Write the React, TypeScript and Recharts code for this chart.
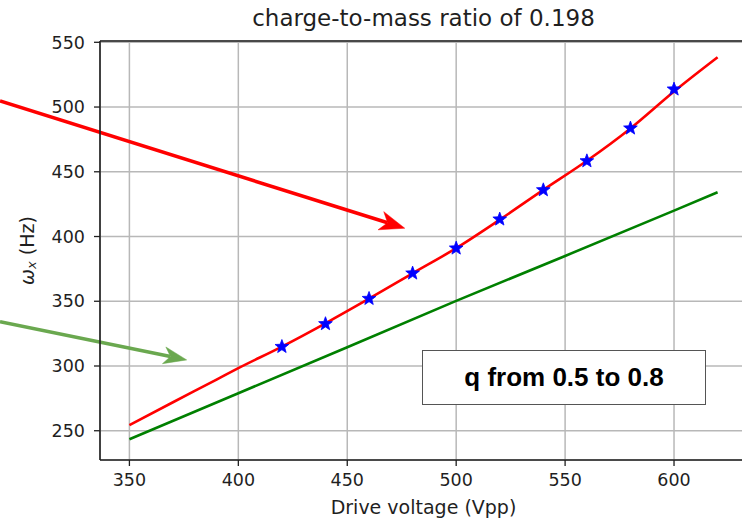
import React from 'react'
import {
  ComposedChart, Line, Scatter, XAxis, YAxis, CartesianGrid, ReferenceLine,
} from 'recharts'

// fitted secular frequency vs drive voltage
const fitVolts = [350, 370, 390, 400, 420, 440, 460, 480, 500, 520, 540, 560, 580, 600, 620]
const fitOmega = [254.4, 272, 289.5, 298.3, 315, 333, 352, 371.6, 391, 413, 436, 458.5, 483.5, 512, 538.4]

// linear approximation
const linVolts = [350, 400, 450, 500, 550, 600, 620]
const linOmega = [243.4, 279, 314.5, 350.3, 385, 420, 434.2]

// measured points
const measVolts = [420, 440, 460, 480, 500, 520, 540, 560, 580, 600]
const measOmega = [314.9, 332.5, 352, 371.6, 390.9, 413.3, 435.9, 458.3, 483.6, 513.7]

const xTicks = [350, 400, 450, 500, 550, 600]
const yTicks = [250, 300, 350, 400, 450, 500, 550]

const X_DOMAIN: [number, number] = [336.5, 633.5]
const Y_DOMAIN: [number, number] = [227.4, 551]

const fitData = fitVolts.map((v, i) => ({ v, w: fitOmega[i] }))
const linData = linVolts.map((v, i) => ({ v, w: linOmega[i] }))
const measData = measVolts.map((v, i) => ({ v, w: measOmega[i] }))

const MPL_FONT = '"DejaVu Sans", sans-serif'
const INK = '#1f1f1f'

function Star(props: any) {
  const { cx, cy } = props
  if (cx == null || cy == null) return null
  const outer = 7.2
  const inner = 3
  const pts: string[] = []
  for (let k = 0; k < 10; k++) {
    const r = k % 2 === 0 ? outer : inner
    const a = -Math.PI / 2 + (k * Math.PI) / 5
    pts.push(`${cx + r * Math.cos(a)},${cy + r * Math.sin(a)}`)
  }
  return <polygon points={pts.join(' ')} fill="#0000ff" stroke="#0000ff" strokeWidth={0.8} />
}

// straight arrow with a notched head, drawn between the segment ends
function arrow(color: string, width: number, headLen: number, headHalf: number) {
  return (props: any) => {
    const { x1, y1, x2, y2 } = props
    const dx = x2 - x1
    const dy = y2 - y1
    const len = Math.hypot(dx, dy)
    const ux = dx / len
    const uy = dy / len
    const nx = -uy
    const ny = ux
    const bx = x2 - ux * headLen
    const by = y2 - uy * headLen
    const mx = x2 - ux * headLen * 0.72
    const my = y2 - uy * headLen * 0.72
    const head = [
      `${x2},${y2}`,
      `${bx + nx * headHalf},${by + ny * headHalf}`,
      `${mx},${my}`,
      `${bx - nx * headHalf},${by - ny * headHalf}`,
    ].join(' ')
    return (
      <g>
        <line x1={x1} y1={y1} x2={mx} y2={my} stroke={color} strokeWidth={width} />
        <polygon points={head} fill={color} stroke={color} strokeWidth={0.5} />
      </g>
    )
  }
}

function OmegaLabel(props: any) {
  const { viewBox } = props
  const cx = viewBox.x + 27
  const cy = viewBox.y + viewBox.height / 2
  return (
    <text
      x={cx}
      y={cy}
      transform={`rotate(-90 ${cx} ${cy})`}
      textAnchor="middle"
      dominantBaseline="central"
      fontFamily={MPL_FONT}
      fontSize={19}
      fill={INK}
    >
      <tspan fontStyle="italic">ω</tspan>
      <tspan fontStyle="italic" fontSize={13} dy={4}>x</tspan>
      <tspan dy={-4}> (Hz)</tspan>
    </text>
  )
}

function VoltLabel(props: any) {
  const { viewBox } = props
  return (
    <text
      x={viewBox.x + viewBox.width / 2}
      y={viewBox.y + 54}
      textAnchor="middle"
      fontFamily={MPL_FONT}
      fontSize={19}
      fill={INK}
    >
      Drive voltage (Vpp)
    </text>
  )
}

export default function App() {
  const tick = { fill: INK, fontSize: 17.5, fontFamily: MPL_FONT }
  return (
    <div
      style={{
        position: 'fixed', left: 0, top: 0, width: 742, height: 519,
        overflow: 'hidden', background: '#fff',
      }}
    >
      <div
        style={{
          position: 'absolute', left: 100, top: 5, width: 647, textAlign: 'center',
          fontFamily: MPL_FONT, fontSize: 23, lineHeight: '26px', color: INK,
        }}
      >
        charge-to-mass ratio of 0.198
      </div>

      <ComposedChart width={760} height={519} margin={{ top: 41, right: 13, bottom: 0, left: 0 }}>
        <CartesianGrid stroke="#b8b8b8" strokeWidth={1.5} />
        <XAxis
          type="number"
          dataKey="v"
          domain={X_DOMAIN}
          ticks={xTicks}
          allowDataOverflow
          height={59}
          tick={tick}
          tickSize={6}
          tickMargin={8}
          tickLine={{ stroke: INK, strokeWidth: 1.3 }}
          axisLine={{ stroke: INK, strokeWidth: 1.6 }}
          label={<VoltLabel />}
        />
        <YAxis
          type="number"
          domain={Y_DOMAIN}
          ticks={yTicks}
          allowDataOverflow
          width={100}
          tick={tick}
          tickSize={6}
          tickMargin={9}
          tickLine={{ stroke: INK, strokeWidth: 1.3 }}
          axisLine={{ stroke: INK, strokeWidth: 1.6 }}
          label={<OmegaLabel />}
        />
        <ReferenceLine y={Y_DOMAIN[1]} stroke={INK} strokeWidth={1.6} ifOverflow="visible" />

        <Line
          data={linData}
          dataKey="w"
          type="linear"
          stroke="#008000"
          strokeWidth={2.6}
          dot={false}
          isAnimationActive={false}
        />
        <Line
          data={fitData}
          dataKey="w"
          type="monotone"
          stroke="#ff0000"
          strokeWidth={2.6}
          dot={false}
          isAnimationActive={false}
        />
        <Scatter data={measData} dataKey="w" shape={<Star />} isAnimationActive={false} />

        <ReferenceLine
          segment={[{ x: 290.6, y: 504.7 }, { x: 476.4, y: 406.4 }]}
          ifOverflow="visible"
          shape={arrow('#ff0000', 3.6, 25, 9.5)}
        />
        <ReferenceLine
          segment={[{ x: 290.6, y: 334.2 }, { x: 376.3, y: 304.7 }]}
          ifOverflow="visible"
          shape={arrow('#6aa84f', 3.6, 23, 8.5)}
        />
      </ComposedChart>

      <div
        style={{
          position: 'absolute', left: 422, top: 350, width: 284, height: 55,
          boxSizing: 'border-box', border: '1.5px solid #555', background: '#fff',
          display: 'flex', alignItems: 'center', justifyContent: 'center',
          fontFamily: '"Liberation Sans", Arial, sans-serif', fontWeight: 'bold',
          fontSize: 26, color: '#000',
        }}
      >
        q from 0.5 to 0.8
      </div>
    </div>
  )
}
